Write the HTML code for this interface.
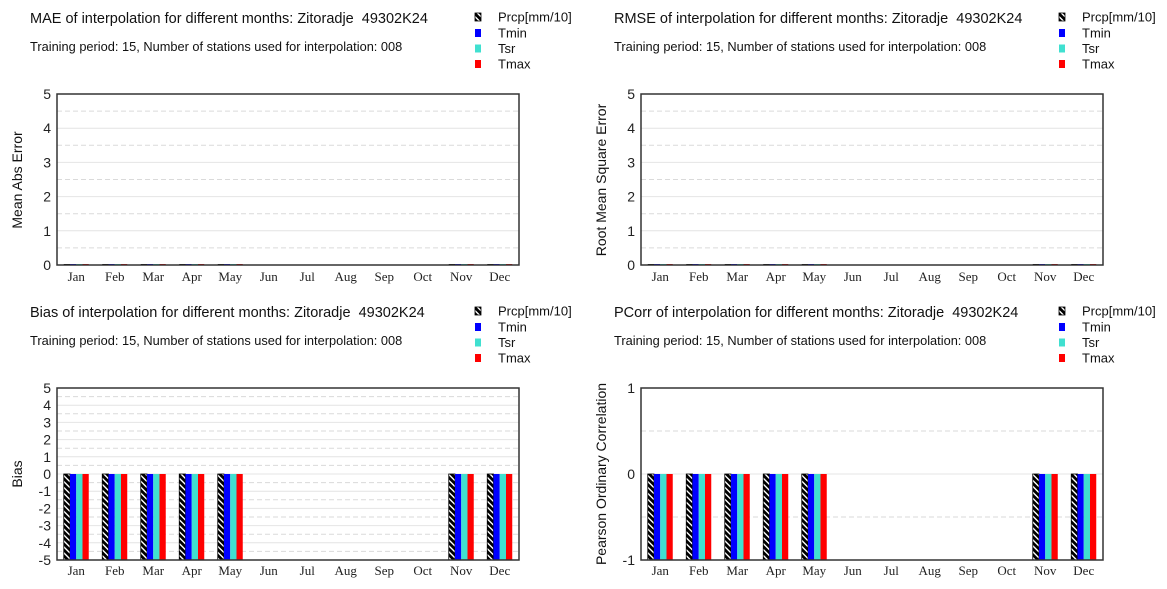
<!DOCTYPE html>
<html>
<head>
<meta charset="utf-8">
<style>
  html,body{margin:0;padding:0;background:#fff;}
  svg{display:block;}
  .t{font-family:"Liberation Sans",Arial,sans-serif;fill:#111;}
  .ti{font-size:14.5px;}
  .st{font-size:12.8px;}
  .lg{font-size:13px;}
  .m{font-family:"Liberation Serif","Times New Roman",serif;fill:#222;font-size:13px;}
  .tk{font-family:"Liberation Sans",Arial,sans-serif;fill:#222;font-size:14px;}
</style>
</head>
<body>
<svg width="1167" height="589" viewBox="0 0 1167 589" xmlns="http://www.w3.org/2000/svg">
<defs>
  <pattern id="h" width="4.2" height="4.2" patternUnits="userSpaceOnUse" patternTransform="rotate(-45)">
    <rect width="4.2" height="4.2" fill="#000"/>
    <rect width="1.4" height="4.2" fill="#fff"/>
  </pattern>
  <g id="months" class="m" text-anchor="middle">
    <text x="76.25" y="281">Jan</text><text x="114.75" y="281">Feb</text><text x="153.25" y="281">Mar</text><text x="191.75" y="281">Apr</text><text x="230.25" y="281">May</text><text x="268.75" y="281">Jun</text><text x="307.25" y="281">Jul</text><text x="345.75" y="281">Aug</text><text x="384.25" y="281">Sep</text><text x="422.75" y="281">Oct</text><text x="461.25" y="281">Nov</text><text x="499.75" y="281">Dec</text>
  </g>
  <g id="legend">
    <rect x="475" y="13" width="6" height="8" fill="url(#h)" stroke="#000" stroke-width="0.8"/>
    <text class="t lg" x="498" y="21.5">Prcp[mm/10]</text>
    <rect x="475" y="29" width="6" height="8" fill="#0000ff"/>
    <text class="t lg" x="498" y="37.5">Tmin</text>
    <rect x="475" y="44.5" width="6" height="8" fill="#40e0d0"/>
    <text class="t lg" x="498" y="53">Tsr</text>
    <rect x="475" y="60" width="6" height="8" fill="#ff0000"/>
    <text class="t lg" x="498" y="68.5">Tmax</text>
  </g>
  <g id="sub">
    <text class="t st" x="30" y="51">Training period: 15, Number of stations used for interpolation: 008</text>
  </g>
  <g id="grid5">
    <g stroke="#e4e4e4" stroke-width="1">
      <line x1="57" y1="128.2" x2="519" y2="128.2"/>
      <line x1="57" y1="162.4" x2="519" y2="162.4"/>
      <line x1="57" y1="196.6" x2="519" y2="196.6"/>
      <line x1="57" y1="230.8" x2="519" y2="230.8"/>
    </g>
    <g stroke="#dadada" stroke-width="1" stroke-dasharray="5,3">
      <line x1="57" y1="111.1" x2="519" y2="111.1"/>
      <line x1="57" y1="145.3" x2="519" y2="145.3"/>
      <line x1="57" y1="179.5" x2="519" y2="179.5"/>
      <line x1="57" y1="213.7" x2="519" y2="213.7"/>
      <line x1="57" y1="247.9" x2="519" y2="247.9"/>
    </g>
  </g>
  <g id="zbars">
    <rect x="63.75" y="264" width="6.25" height="1.5" fill="#000"/><rect x="70" y="264" width="6.25" height="1.5" fill="#00f"/><rect x="76.25" y="264" width="6.25" height="1.5" fill="#40e0d0"/><rect x="82.5" y="264" width="6.25" height="1.5" fill="#f00"/>
    <rect x="102.25" y="264" width="6.25" height="1.5" fill="#000"/><rect x="108.5" y="264" width="6.25" height="1.5" fill="#00f"/><rect x="114.75" y="264" width="6.25" height="1.5" fill="#40e0d0"/><rect x="121" y="264" width="6.25" height="1.5" fill="#f00"/>
    <rect x="140.75" y="264" width="6.25" height="1.5" fill="#000"/><rect x="147" y="264" width="6.25" height="1.5" fill="#00f"/><rect x="153.25" y="264" width="6.25" height="1.5" fill="#40e0d0"/><rect x="159.5" y="264" width="6.25" height="1.5" fill="#f00"/>
    <rect x="179.25" y="264" width="6.25" height="1.5" fill="#000"/><rect x="185.5" y="264" width="6.25" height="1.5" fill="#00f"/><rect x="191.75" y="264" width="6.25" height="1.5" fill="#40e0d0"/><rect x="198" y="264" width="6.25" height="1.5" fill="#f00"/>
    <rect x="217.75" y="264" width="6.25" height="1.5" fill="#000"/><rect x="224" y="264" width="6.25" height="1.5" fill="#00f"/><rect x="230.25" y="264" width="6.25" height="1.5" fill="#40e0d0"/><rect x="236.5" y="264" width="6.25" height="1.5" fill="#f00"/>
    <rect x="448.75" y="264" width="6.25" height="1.5" fill="#000"/><rect x="455" y="264" width="6.25" height="1.5" fill="#00f"/><rect x="461.25" y="264" width="6.25" height="1.5" fill="#40e0d0"/><rect x="467.5" y="264" width="6.25" height="1.5" fill="#f00"/>
    <rect x="487.25" y="264" width="6.25" height="1.5" fill="#000"/><rect x="493.5" y="264" width="6.25" height="1.5" fill="#00f"/><rect x="499.75" y="264" width="6.25" height="1.5" fill="#40e0d0"/><rect x="506" y="264" width="6.25" height="1.5" fill="#f00"/>
  </g>
  <g id="bars">
    <rect x="63.75" y="180" width="6.25" height="86" fill="url(#h)" stroke="#000" stroke-width="0.8"/><rect x="70" y="180" width="6.25" height="86" fill="#00f"/><rect x="76.25" y="180" width="6.25" height="86" fill="#40e0d0"/><rect x="82.5" y="180" width="6.25" height="86" fill="#f00"/>
    <rect x="102.25" y="180" width="6.25" height="86" fill="url(#h)" stroke="#000" stroke-width="0.8"/><rect x="108.5" y="180" width="6.25" height="86" fill="#00f"/><rect x="114.75" y="180" width="6.25" height="86" fill="#40e0d0"/><rect x="121" y="180" width="6.25" height="86" fill="#f00"/>
    <rect x="140.75" y="180" width="6.25" height="86" fill="url(#h)" stroke="#000" stroke-width="0.8"/><rect x="147" y="180" width="6.25" height="86" fill="#00f"/><rect x="153.25" y="180" width="6.25" height="86" fill="#40e0d0"/><rect x="159.5" y="180" width="6.25" height="86" fill="#f00"/>
    <rect x="179.25" y="180" width="6.25" height="86" fill="url(#h)" stroke="#000" stroke-width="0.8"/><rect x="185.5" y="180" width="6.25" height="86" fill="#00f"/><rect x="191.75" y="180" width="6.25" height="86" fill="#40e0d0"/><rect x="198" y="180" width="6.25" height="86" fill="#f00"/>
    <rect x="217.75" y="180" width="6.25" height="86" fill="url(#h)" stroke="#000" stroke-width="0.8"/><rect x="224" y="180" width="6.25" height="86" fill="#00f"/><rect x="230.25" y="180" width="6.25" height="86" fill="#40e0d0"/><rect x="236.5" y="180" width="6.25" height="86" fill="#f00"/>
    <rect x="448.75" y="180" width="6.25" height="86" fill="url(#h)" stroke="#000" stroke-width="0.8"/><rect x="455" y="180" width="6.25" height="86" fill="#00f"/><rect x="461.25" y="180" width="6.25" height="86" fill="#40e0d0"/><rect x="467.5" y="180" width="6.25" height="86" fill="#f00"/>
    <rect x="487.25" y="180" width="6.25" height="86" fill="url(#h)" stroke="#000" stroke-width="0.8"/><rect x="493.5" y="180" width="6.25" height="86" fill="#00f"/><rect x="499.75" y="180" width="6.25" height="86" fill="#40e0d0"/><rect x="506" y="180" width="6.25" height="86" fill="#f00"/>
  </g>
  <g id="ticks5" class="tk" text-anchor="end">
    <text x="51" y="99">5</text>
    <text x="51" y="133.2">4</text>
    <text x="51" y="167.4">3</text>
    <text x="51" y="201.6">2</text>
    <text x="51" y="235.8">1</text>
    <text x="51" y="270">0</text>
  </g>
</defs>

<!-- ============ TOP-LEFT: MAE ============ -->
<g>
  <text class="t ti" x="30" y="23">MAE of interpolation for different months: Zitoradje&#160; 49302K24</text>
  <use href="#sub"/>
  <use href="#legend"/>
  <use href="#grid5"/>
  <use href="#zbars"/>
  <rect x="57" y="94" width="462" height="171" fill="none" stroke="#333" stroke-width="1.5"/>
  <use href="#ticks5"/>
  <text class="t" font-size="14" text-anchor="middle" transform="translate(22,180) rotate(-90)">Mean Abs Error</text>
  <use href="#months"/>
</g>

<!-- ============ TOP-RIGHT: RMSE ============ -->
<g transform="translate(584,0)">
  <text class="t ti" x="30" y="23">RMSE of interpolation for different months: Zitoradje&#160; 49302K24</text>
  <use href="#sub"/>
  <use href="#legend"/>
  <use href="#grid5"/>
  <use href="#zbars"/>
  <rect x="57" y="94" width="462" height="171" fill="none" stroke="#333" stroke-width="1.5"/>
  <use href="#ticks5"/>
  <text class="t" font-size="14" text-anchor="middle" transform="translate(22,180) rotate(-90)">Root Mean Square Error</text>
  <use href="#months"/>
</g>

<!-- ============ BOTTOM-LEFT: Bias ============ -->
<g transform="translate(0,294)">
  <text class="t ti" x="30" y="23">Bias of interpolation for different months: Zitoradje&#160; 49302K24</text>
  <use href="#sub"/>
  <use href="#legend"/>
  <g stroke="#e4e4e4" stroke-width="1">
    <line x1="57" y1="111.2" x2="519" y2="111.2"/>
    <line x1="57" y1="128.4" x2="519" y2="128.4"/>
    <line x1="57" y1="145.6" x2="519" y2="145.6"/>
    <line x1="57" y1="162.8" x2="519" y2="162.8"/>
    <line x1="57" y1="180" x2="519" y2="180"/>
    <line x1="57" y1="197.2" x2="519" y2="197.2"/>
    <line x1="57" y1="214.4" x2="519" y2="214.4"/>
    <line x1="57" y1="231.6" x2="519" y2="231.6"/>
    <line x1="57" y1="248.8" x2="519" y2="248.8"/>
  </g>
  <g stroke="#dadada" stroke-width="1" stroke-dasharray="5,3">
    <line x1="57" y1="102.6" x2="519" y2="102.6"/>
    <line x1="57" y1="119.8" x2="519" y2="119.8"/>
    <line x1="57" y1="137" x2="519" y2="137"/>
    <line x1="57" y1="154.2" x2="519" y2="154.2"/>
    <line x1="57" y1="171.4" x2="519" y2="171.4"/>
    <line x1="57" y1="188.6" x2="519" y2="188.6"/>
    <line x1="57" y1="205.8" x2="519" y2="205.8"/>
    <line x1="57" y1="223" x2="519" y2="223"/>
    <line x1="57" y1="240.2" x2="519" y2="240.2"/>
    <line x1="57" y1="257.4" x2="519" y2="257.4"/>
  </g>
  <use href="#bars"/>
  <rect x="57" y="94" width="462" height="172" fill="none" stroke="#333" stroke-width="1.5"/>
  <g class="tk" text-anchor="end">
    <text x="51" y="99">5</text>
    <text x="51" y="116.2">4</text>
    <text x="51" y="133.4">3</text>
    <text x="51" y="150.6">2</text>
    <text x="51" y="167.8">1</text>
    <text x="51" y="185">0</text>
    <text x="51" y="202.2">-1</text>
    <text x="51" y="219.4">-2</text>
    <text x="51" y="236.6">-3</text>
    <text x="51" y="253.8">-4</text>
    <text x="51" y="271">-5</text>
  </g>
  <text class="t" font-size="14" text-anchor="middle" transform="translate(22,180) rotate(-90)">Bias</text>
  <use href="#months"/>
</g>

<!-- ============ BOTTOM-RIGHT: PCorr ============ -->
<g transform="translate(584,294)">
  <text class="t ti" x="30" y="23">PCorr of interpolation for different months: Zitoradje&#160; 49302K24</text>
  <use href="#sub"/>
  <use href="#legend"/>
  <g stroke="#e4e4e4" stroke-width="1">
    <line x1="57" y1="180" x2="519" y2="180"/>
  </g>
  <g stroke="#dadada" stroke-width="1" stroke-dasharray="5,3">
    <line x1="57" y1="137" x2="519" y2="137"/>
    <line x1="57" y1="223" x2="519" y2="223"/>
  </g>
  <use href="#bars"/>
  <rect x="57" y="94" width="462" height="172" fill="none" stroke="#333" stroke-width="1.5"/>
  <g class="tk" text-anchor="end">
    <text x="51" y="99">1</text>
    <text x="51" y="185">0</text>
    <text x="51" y="271">-1</text>
  </g>
  <text class="t" font-size="14" text-anchor="middle" transform="translate(22,180) rotate(-90)">Pearson Ordinary Correlation</text>
  <use href="#months"/>
</g>
</svg>
</body>
</html>
